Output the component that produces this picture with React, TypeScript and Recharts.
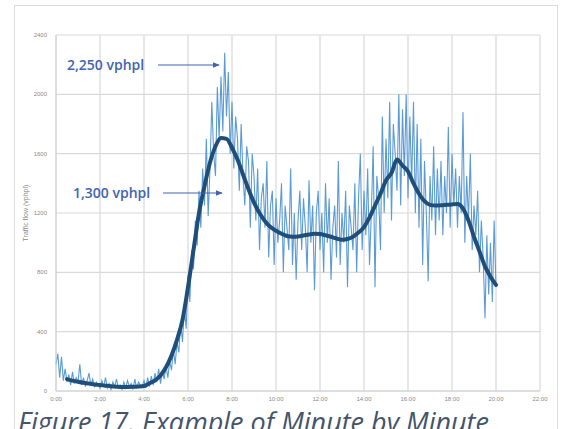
import { LineChart, Line, XAxis, YAxis, CartesianGrid } from "recharts";

// minute-by-minute flow, sampled every 5 minutes from 0:00 to 20:00 (vphpl)
const noisyStartMin = 0;
const noisyStepMin = 5;
const noisyFlow = [
  180, 250, 90, 230, 70, 150, 60, 110, 40, 130, 50, 90,
  60, 180, 40, 90, 30, 70, 120, 40, 80, 30, 60, 40,
  20, 70, 30, 90, 20, 50, 10, 60, 30, 80, 20, 40,
  10, 60, 20, 70, 30, 50, 10, 80, 20, 60, 40, 30,
  70, 20, 90, 30, 100, 40, 120, 60, 150, 50, 130, 80,
  170, 90, 200, 140, 280, 180, 330, 260, 460, 330, 560, 420,
  780, 600, 950, 820, 1150, 980, 1350, 1100, 1500, 1250, 1700, 1180,
  1500, 1950, 1600, 1450, 2050, 1700, 2120, 1750, 2280, 1850, 2150, 1600,
  1950, 1500, 1850, 1700, 1350, 1800, 1450, 1250, 1650, 1550, 1100, 1600,
  1450, 1150, 1500, 950, 1300, 1400, 1100, 1550, 900, 1250, 1350, 850,
  1300, 1000, 1150, 1400, 800, 1250, 1100, 950, 1500, 850, 1200, 750,
  1150, 1350, 950, 1300, 1100, 800, 1420, 1000, 1250, 680, 1200, 1350,
  950, 1200, 800, 1400, 1000, 1300, 750, 1100, 1250, 900, 1550, 850,
  1200, 1000, 1350, 700, 1250, 1100, 950, 1400, 800, 1300, 1600, 950,
  1350, 1050, 1500, 850, 1200, 1650, 700, 1450, 1300, 950, 1850, 1200,
  1700, 1300, 1950, 1150, 1800, 1600, 1350, 2000, 1250, 1900, 1450, 2000,
  1300, 1850, 1400, 1950, 1200, 1800, 1100, 1700, 850, 1550, 1200, 740,
  1450, 1150, 1650, 1050, 1500, 1150, 1550, 1050, 1450, 1200, 1780, 1100,
  1600, 1250, 1500, 1100, 1450, 1200, 1880, 1000, 1450, 1150, 1600, 950,
  1250, 1050, 1350, 800, 1150, 900, 490, 1050, 650, 1000, 600, 1150,
  700,
];

// smoothed trend, every 15 minutes from 0:30 to 20:00
const smoothStartMin = 30;
const smoothStepMin = 15;
const smoothFlow = [
  80, 70, 62, 55, 50, 44, 40, 36, 32, 29, 27, 27, 28, 30, 34,
  52, 72, 105, 160, 240, 345, 480, 700, 950, 1200, 1380, 1540, 1650, 1705, 1700,
  1640, 1560, 1460, 1360, 1270, 1200, 1145, 1105, 1080, 1060, 1045, 1040, 1042, 1048, 1055,
  1060, 1058, 1050, 1040, 1028, 1020, 1025, 1040, 1068, 1105, 1170, 1250, 1330, 1420, 1470,
  1560, 1520, 1480, 1400, 1330, 1280, 1255, 1250, 1252, 1255, 1258, 1260, 1230, 1150, 1040,
  940, 840, 770, 715,
];

const xTickMinutes = [0, 120, 240, 360, 480, 600, 720, 840, 960, 1080, 1200, 1320];
const xTickLabels = ["0:00", "2:00", "4:00", "6:00", "8:00", "10:00", "12:00", "14:00", "16:00", "18:00", "20:00", "22:00"];
const yTicks = [0, 400, 800, 1200, 1600, 2000, 2400];

const noisyPoints = noisyFlow.map((v, i) => ({ min: noisyStartMin + i * noisyStepMin, flow: v }));
const smoothPoints = smoothFlow.map((v, i) => ({ min: smoothStartMin + i * smoothStepMin, flow: v }));

const tickStyle = { fontSize: 6, fill: "#8a8a8a", fontFamily: "Liberation Sans, Arial, sans-serif" };
const noteColor = "#4164b2";

export default function App() {
  return (
    <div
      style={{
        position: "fixed",
        left: 0,
        top: 0,
        width: 562,
        height: 429,
        background: "#fff",
        overflow: "hidden",
      }}
    >
      <div
        style={{
          position: "absolute",
          left: 14,
          top: 5,
          width: 542,
          height: 440,
          border: "1px solid #dcdcdc",
        }}
      />
      <div style={{ position: "absolute", left: 0, top: 0 }}>
        <LineChart
          width={562}
          height={429}
          margin={{ top: 35, right: 22, bottom: 18, left: 10 }}
        >
          <CartesianGrid stroke="#d9d9d9" strokeWidth={1.2} />
          <XAxis
            dataKey="min"
            type="number"
            domain={[0, 1320]}
            ticks={xTickMinutes}
            tickFormatter={(v) => xTickLabels[xTickMinutes.indexOf(v)]}
            tick={tickStyle}
            tickLine={false}
            tickSize={0}
            tickMargin={6}
            axisLine={{ stroke: "#d0d0d0" }}
            height={20}
            allowDuplicatedCategory={false}
          />
          <YAxis
            type="number"
            domain={[0, 2400]}
            ticks={yTicks}
            tick={tickStyle}
            tickLine={false}
            tickSize={0}
            tickMargin={9}
            axisLine={{ stroke: "#d0d0d0" }}
            width={46}
            label={{
              value: "Traffic flow (vphpl)",
              angle: -90,
              position: "insideLeft",
              offset: 16,
              style: { fontSize: 7, fill: "#8a8a8a", textAnchor: "middle", fontFamily: "Liberation Sans, Arial, sans-serif" },
            }}
          />
          <Line
            data={noisyPoints}
            dataKey="flow"
            type="linear"
            stroke="#5b9bd5"
            strokeWidth={1.1}
            dot={false}
            activeDot={false}
            isAnimationActive={false}
          />
          <Line
            data={smoothPoints}
            dataKey="flow"
            type="monotone"
            stroke="#1f4e79"
            strokeWidth={4}
            strokeLinecap="round"
            dot={false}
            activeDot={false}
            isAnimationActive={false}
          />
        </LineChart>
      </div>
      <svg
        width={562}
        height={429}
        style={{ position: "absolute", left: 0, top: 0, pointerEvents: "none" }}
      >
        <defs>
          <marker id="arrow" viewBox="0 0 10 10" refX="9" refY="5" markerWidth="6" markerHeight="6" orient="auto">
            <path d="M0,1 L10,5 L0,9 z" fill={noteColor} />
          </marker>
        </defs>
        <g fontFamily="Open Sans, sans-serif" fontWeight={600} fontSize={14} fill={noteColor}>
          <text x={67} y={70}>2,250 vphpl</text>
          <text x={73} y={198}>1,300 vphpl</text>
        </g>
        <line x1={158} y1={65} x2={219} y2={65} stroke={noteColor} strokeWidth={1.2} markerEnd="url(#arrow)" />
        <line x1={163} y1={193} x2={222} y2={193} stroke={noteColor} strokeWidth={1.2} markerEnd="url(#arrow)" />
      </svg>
      <div
        style={{
          position: "absolute",
          left: 18,
          top: 411,
          fontFamily: "Open Sans, sans-serif",
          fontStyle: "italic",
          fontSize: 27,
          lineHeight: 0.8,
          color: "#44546a",
          whiteSpace: "nowrap",
        }}
      >
        Figure 17. Example of Minute by Minute
      </div>
    </div>
  );
}
